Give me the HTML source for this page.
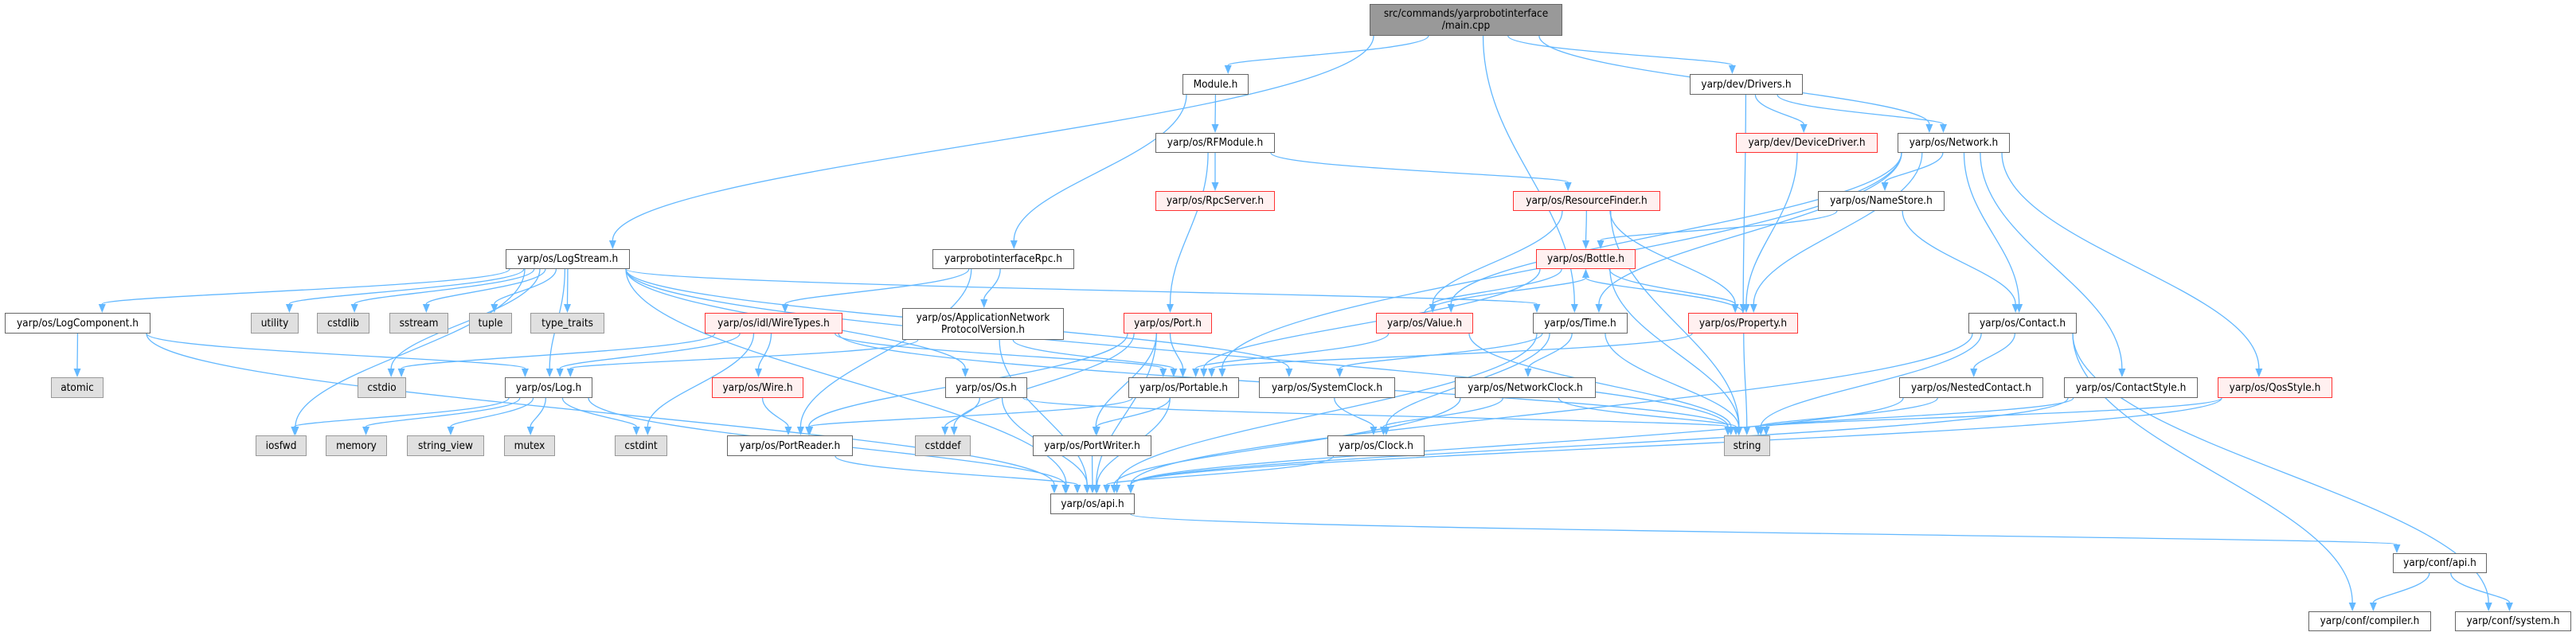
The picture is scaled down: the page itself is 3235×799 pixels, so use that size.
<!DOCTYPE html>
<html><head><meta charset="utf-8">
<style>
html,body{margin:0;padding:0;background:#fff;}
#c{position:relative;width:3235px;height:799px;overflow:hidden;font-family:"DejaVu Sans Condensed","Liberation Sans",sans-serif;}
.n{position:absolute;box-sizing:border-box;border:1.5px solid #666;background:#fff;color:#000;font-size:13.5px;display:flex;align-items:center;justify-content:center;text-align:center;line-height:15px;white-space:nowrap;}
.r{border-color:#f33;background:#fff0f0;}
.g{border-color:#999;background:#e0e0e0;}
.m{border-color:#666;background:#999;}
svg{position:absolute;left:0;top:0;}
</style></head><body>
<div id="c">
<svg id="s" width="3235" height="799"></svg>
</div>
<script>
var R=[[5,45],[93,119],[167,192],[240,265],[313,338],[393,419],[474,500],[547,573],[620,646],[695,720],[768,793]];
var N={
main:[1720,1962,0,"src/commands/yarprobotinterface<br>/main.cpp","m"],
Module:[1485,1568,1,"Module.h"],
Drivers:[2122,2264,1,"yarp/dev/Drivers.h"],
RFModule:[1451,1601,2,"yarp/os/RFModule.h"],
DeviceDriver:[2180,2358,2,"yarp/dev/DeviceDriver.h","r"],
Network:[2383,2524,2,"yarp/os/Network.h"],
RpcServer:[1451,1601,3,"yarp/os/RpcServer.h","r"],
ResourceFinder:[1900,2085,3,"yarp/os/ResourceFinder.h","r"],
NameStore:[2283,2442,3,"yarp/os/NameStore.h"],
LogStream:[635,791,4,"yarp/os/LogStream.h"],
Rpc:[1171,1349,4,"yarprobotinterfaceRpc.h"],
Bottle:[1929,2054,4,"yarp/os/Bottle.h","r"],
LogComponent:[6,189,5,"yarp/os/LogComponent.h"],
utility:[315,375,5,"utility","g"],
cstdlib:[398,464,5,"cstdlib","g"],
sstream:[489,563,5,"sstream","g"],
tuple:[589,643,5,"tuple","g"],
type_traits:[666,759,5,"type_traits","g"],
WireTypes:[885,1058,5,"yarp/os/idl/WireTypes.h","r"],
AppNet:[1133,1336,5,"yarp/os/ApplicationNetwork<br>ProtocolVersion.h"],
Port:[1411,1522,5,"yarp/os/Port.h","r"],
Value:[1728,1850,5,"yarp/os/Value.h","r"],
Time:[1925,2044,5,"yarp/os/Time.h"],
Property:[2120,2258,5,"yarp/os/Property.h","r"],
Contact:[2472,2608,5,"yarp/os/Contact.h"],
atomic:[64,130,6,"atomic","g"],
cstdio:[449,510,6,"cstdio","g"],
Log:[634,744,6,"yarp/os/Log.h"],
Wire:[894,1009,6,"yarp/os/Wire.h","r"],
Os:[1187,1290,6,"yarp/os/Os.h"],
Portable:[1417,1556,6,"yarp/os/Portable.h"],
SystemClock:[1581,1752,6,"yarp/os/SystemClock.h"],
NetworkClock:[1827,2004,6,"yarp/os/NetworkClock.h"],
NestedContact:[2385,2566,6,"yarp/os/NestedContact.h"],
ContactStyle:[2592,2760,6,"yarp/os/ContactStyle.h"],
QosStyle:[2785,2929,6,"yarp/os/QosStyle.h","r"],
iosfwd:[321,385,7,"iosfwd","g"],
memory:[409,486,7,"memory","g"],
string_view:[511,608,7,"string_view","g"],
mutex:[633,697,7,"mutex","g"],
cstdint:[772,838,7,"cstdint","g"],
PortReader:[913,1071,7,"yarp/os/PortReader.h"],
cstddef:[1149,1219,7,"cstddef","g"],
PortWriter:[1297,1446,7,"yarp/os/PortWriter.h"],
Clock:[1667,1789,7,"yarp/os/Clock.h"],
string:[2165,2223,7,"string","g"],
api:[1319,1425,8,"yarp/os/api.h"],
confapi:[3005,3123,9,"yarp/conf/api.h"],
compiler:[2899,3053,10,"yarp/conf/compiler.h"],
system:[3083,3229,10,"yarp/conf/system.h"]
};
var E="main>LogStream main>Module main>Time main>Drivers main>Network Module>RFModule Module>Rpc RFModule>RpcServer RFModule>ResourceFinder RFModule>Port Drivers>DeviceDriver Drivers>Network Drivers>Property DeviceDriver>Property Network>NameStore Network>Contact Network>ContactStyle Network>QosStyle Network>Property Network>Value Network>Portable Network>Time NameStore>Contact NameStore>Bottle ResourceFinder>Bottle ResourceFinder>Value ResourceFinder>Property ResourceFinder>string Bottle>Value Bottle>Property Bottle>string Bottle>Portable Value>Bottle Value>Portable Value>string Property>Bottle Property>Portable Property>string Time>SystemClock Time>NetworkClock Time>Clock Time>string Time>api Rpc>WireTypes Rpc>AppNet Rpc>PortReader LogStream>LogComponent LogStream>utility LogStream>cstdlib LogStream>sstream LogStream>tuple LogStream>type_traits LogStream>cstdio LogStream>Log LogStream>iosfwd LogStream>Os LogStream>SystemClock LogStream>Time LogStream>string LogStream>api LogComponent>atomic LogComponent>Log LogComponent>api Log>iosfwd Log>memory Log>string_view Log>mutex Log>cstdint Log>api WireTypes>Wire WireTypes>Log WireTypes>cstdint WireTypes>cstdio WireTypes>string WireTypes>Portable Wire>PortReader Port>Portable Port>PortWriter Port>PortReader Port>cstddef Port>api AppNet>Portable AppNet>Log AppNet>api Os>cstddef Os>api Os>string Portable>PortReader Portable>PortWriter Portable>api SystemClock>Clock NetworkClock>Clock NetworkClock>string NetworkClock>api Clock>api PortReader>api PortWriter>api Contact>NestedContact Contact>string Contact>compiler Contact>system Contact>api NestedContact>string NestedContact>api ContactStyle>string ContactStyle>api QosStyle>string QosStyle>api api>confapi confapi>compiler confapi>system".split(" ");
var c=document.getElementById("c"),s=document.getElementById("s"),h="",col="#63b8ff";
for(var k in N){var n=N[k],d=document.createElement("div");d.className="n "+(n[4]||"");var y=R[n[2]];
if(k=="AppNet"){y=[387,427];}
d.style.left=n[0]+"px";d.style.top=y[0]+"px";d.style.width=(n[1]-n[0])+"px";d.style.height=(y[1]-y[0])+"px";d.innerHTML=n[3];c.appendChild(d);}
function yy(n){return N[n][2]==5&&n=="AppNet"?[387,427]:R[N[n][2]];}
E.forEach(function(e){var p=e.split(">"),a=N[p[0]],b=N[p[1]];var ya=yy(p[0]),yb=yy(p[1]);
var ax=(a[0]+a[1])/2,bx=(b[0]+b[1])/2,sx,sy,tx,ty;
if(b[2]>a[2]){sx=ax+(bx-ax)*0.15;sy=ya[1];tx=bx-(bx-ax)*0.05;ty=yb[0];}
else if(b[2]<a[2]){sx=ax;sy=ya[0];tx=bx;ty=yb[1];}
else{sx=bx>ax?a[1]:a[0];sy=(ya[0]+ya[1])/2;tx=bx>ax?b[0]:b[1];ty=(yb[0]+yb[1])/2;}
sx=Math.max(a[0]+5,Math.min(a[1]-5,sx));tx=Math.max(b[0]+5,Math.min(b[1]-5,tx));
var dy=ty-sy,c1x=sx,c1y=sy+dy*0.4,c2x=tx,c2y=ty-dy*0.4;
if(a[2]==b[2]){c1x=sx+(tx-sx)*0.4;c1y=sy;c2x=tx-(tx-sx)*0.4;c2y=ty;}
var vx=tx-c2x,vy=ty-c2y,L=Math.hypot(vx,vy)||1;vx/=L;vy/=L;
var ex=tx-vx*11,ey=ty-vy*11,px=-vy*4.5,py=vx*4.5;
h+='<path d="M'+sx+','+sy+' C'+c1x+','+c1y+' '+c2x+','+c2y+' '+ex+','+ey+'" fill="none" stroke="'+col+'" stroke-width="1.3"/>';
h+='<polygon points="'+tx+','+ty+' '+(ex+px)+','+(ey+py)+' '+(ex-px)+','+(ey-py)+'" fill="'+col+'"/>';});
s.innerHTML=h;
</script>
</body></html>
